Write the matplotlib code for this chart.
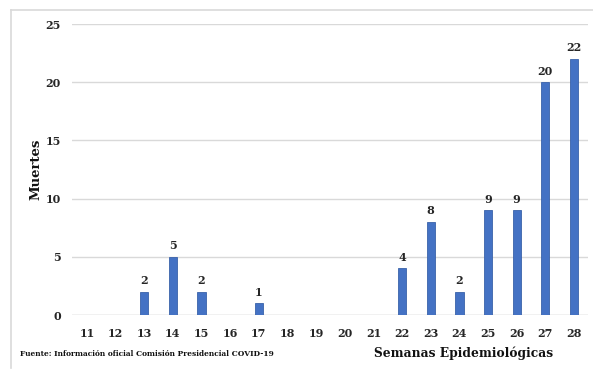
import matplotlib
matplotlib.use('Agg')
import matplotlib.pyplot as plt
from matplotlib.lines import Line2D

# deaths per epidemiological week
weeks = [11, 12, 13, 14, 15, 16, 17, 18, 19, 20, 21, 22, 23, 24, 25, 26, 27, 28]
deaths = [0, 0, 2, 5, 2, 0, 1, 0, 0, 0, 0, 4, 8, 2, 9, 9, 20, 22]
y_ticks = [0, 5, 10, 15, 20, 25]

plt.rcParams['font.family'] = ['DejaVu Serif']
plt.rcParams['font.weight'] = 'bold'

fig = plt.figure(figsize=(5.93, 3.70), dpi=100)
ax = fig.add_axes([0.1214, 0.1486, 0.8702, 0.7864])

bar_color = '#4472C4'
bars = ax.bar(weeks, deaths, width=0.29, color=bar_color, edgecolor='#3A62AA', linewidth=0.6, zorder=3)
for w, d in zip(weeks, deaths):
    if d > 0:
        ax.annotate(str(d), (w, d), xytext=(0, 4), textcoords='offset points',
                    ha='center', va='bottom', fontsize=8, fontweight='bold', color='#262626')

ax.set_xlim(10.48, 28.49)
ax.set_ylim(0, 25)
ax.set_xticks(weeks)
ax.set_yticks(y_ticks)
ax.tick_params(axis='both', length=0, labelsize=8, colors='#262626')
ax.tick_params(axis='x', pad=9)
ax.tick_params(axis='y', pad=8)
for lab in ax.get_xticklabels() + ax.get_yticklabels():
    lab.set_fontweight('bold')
ax.grid(axis='y', color='#D9D9D9', linewidth=1.0, zorder=0)
for s in ax.spines.values():
    s.set_visible(False)
ax.axhline(0, color='#D9D9D9', linewidth=1.0, zorder=1)

ax.set_ylabel('Muertes', fontsize=9.5, fontweight='bold', color='#111111', labelpad=2)
fig.text(0.782, 0.045, 'Semanas Epidemiológicas', ha='center', va='center',
         fontsize=8.8, fontweight='bold', color='#111111')
fig.text(0.034, 0.042, 'Fuente: Información oficial Comisión Presidencial COVID-19',
         ha='left', va='center', fontsize=5.4, fontweight='bold', color='#111111')

# light frame on left and top edges
fig.add_artist(Line2D([0.019, 0.019], [0.005, 0.973], color='#D9D9D9', linewidth=1.2))
fig.add_artist(Line2D([0.019, 1.0], [0.973, 0.973], color='#D9D9D9', linewidth=1.2))

fig.savefig('out.png', dpi=100)
